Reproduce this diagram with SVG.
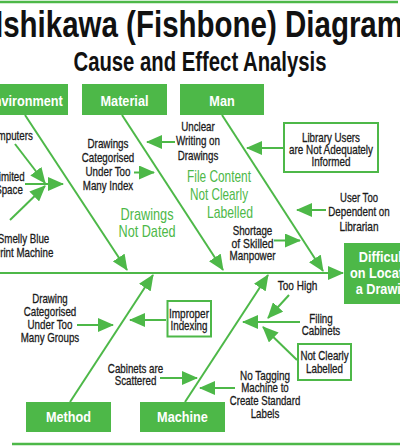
<svg xmlns="http://www.w3.org/2000/svg" width="400" height="446" viewBox="0 0 400 446">
<style>
text{font-family:"Liberation Sans",Arial,sans-serif}
.t{font-size:13px;fill:#1a1a1a;stroke:#1a1a1a;stroke-width:0.3;text-anchor:middle}
.b{font-size:15px;font-weight:bold;fill:#fff;text-anchor:middle}
.g{font-size:17px;fill:#4db848}
.gb{fill:#4db848}
.wb{fill:#fff;stroke:#4db848;stroke-width:2}
.ln{stroke:#4db848;stroke-width:2;fill:none}
.ar{marker-end:url(#ah)}
</style>
<defs>
<marker id="ah" viewBox="0 0 16 14" refX="15" refY="7" markerWidth="16" markerHeight="14" orient="auto" markerUnits="userSpaceOnUse"><path d="M0,0 L16,7 L0,14 z" fill="#4db848"/></marker>
</defs>
<rect width="400" height="446" fill="#fff"/>
<line x1="0" y1="2" x2="398" y2="2" stroke="#4db848" stroke-width="2.5"/>
<line x1="12" y1="444" x2="400" y2="444" stroke="#4db848" stroke-width="2.5"/>
<g id="title">
<text x="-5" y="36.5" font-size="36" font-weight="bold" fill="#111" textLength="408" lengthAdjust="spacingAndGlyphs">Ishikawa (Fishbone) Diagram</text>
<text x="200" y="71" font-size="28" font-weight="bold" fill="#111" text-anchor="middle" textLength="253" lengthAdjust="spacingAndGlyphs">Cause and Effect Analysis</text>
</g>
<g id="connectors" class="ln">
<line class="ar" x1="0" y1="273" x2="343" y2="273"/>
<line class="ar" x1="25" y1="115" x2="127" y2="270"/>
<line class="ar" x1="122" y1="115" x2="223" y2="270"/>
<line class="ar" x1="222" y1="115" x2="323" y2="271"/>
<line class="ar" x1="70" y1="402" x2="153" y2="275"/>
<line class="ar" x1="185" y1="402" x2="268" y2="275"/>
<line class="ar" x1="15" y1="144" x2="45" y2="183"/>
<line class="ar" x1="25" y1="184" x2="63" y2="184"/>
<line class="ar" x1="10" y1="220" x2="45" y2="186"/>
<line class="ar" x1="134" y1="172.5" x2="154" y2="172.5"/>
<line class="ar" x1="175" y1="142" x2="147" y2="142"/>
<line class="ar" x1="283" y1="148" x2="247" y2="148"/>
<line class="ar" x1="326" y1="210" x2="297" y2="210"/>
<line class="ar" x1="274" y1="240.5" x2="300" y2="240.5"/>
<line class="ar" x1="77" y1="325" x2="113" y2="325"/>
<line class="ar" x1="166" y1="320" x2="130" y2="320"/>
<line class="ar" x1="160" y1="378" x2="197" y2="378"/>
<line class="ar" x1="235" y1="388" x2="200" y2="388"/>
<line class="ar" x1="289" y1="295" x2="268" y2="318"/>
<line class="ar" x1="300" y1="322" x2="243" y2="322"/>
<line class="ar" x1="297" y1="360" x2="263" y2="327"/>
</g>
<g id="environment"><rect class="gb" x="-20" y="84" width="88" height="31"/><text class="b" x="24" y="105.5" textLength="77.6" lengthAdjust="spacingAndGlyphs">Environment</text></g>
<g id="material"><rect class="gb" x="82" y="84" width="85" height="31"/><text class="b" x="124.5" y="105.5" textLength="48" lengthAdjust="spacingAndGlyphs">Material</text></g>
<g id="man"><rect class="gb" x="180" y="84" width="84" height="31"/><text class="b" x="222" y="105.5" textLength="25.4" lengthAdjust="spacingAndGlyphs">Man</text></g>
<g id="method"><rect class="gb" x="26" y="402" width="85" height="30"/><text class="b" x="68.5" y="422" textLength="45" lengthAdjust="spacingAndGlyphs">Method</text></g>
<g id="machine"><rect class="gb" x="140" y="402" width="85" height="30"/><text class="b" x="182.5" y="422" textLength="50.8" lengthAdjust="spacingAndGlyphs">Machine</text></g>
<g id="effect"><rect class="gb" x="344" y="243" width="84" height="61"/>
<text class="b" x="386" y="261.5" textLength="54.3" lengthAdjust="spacingAndGlyphs">Difficulty</text>
<text class="b" x="386" y="278" textLength="72" lengthAdjust="spacingAndGlyphs">on Locating</text>
<text class="b" x="386" y="294" textLength="60.7" lengthAdjust="spacingAndGlyphs">a Drawing</text></g>
<g id="computers"><text class="t" x="9" y="140" textLength="47.7" lengthAdjust="spacingAndGlyphs">Computers</text></g>
<g id="limited-space"><text class="t" x="9" y="181" textLength="31.4" lengthAdjust="spacingAndGlyphs">Limited</text><text class="t" x="9" y="194" textLength="27.6" lengthAdjust="spacingAndGlyphs">Space</text></g>
<g id="smelly"><text class="t" x="23.5" y="242.5" textLength="51.5" lengthAdjust="spacingAndGlyphs">Smelly Blue</text><text class="t" x="23.5" y="256.5" textLength="59.6" lengthAdjust="spacingAndGlyphs">Print Machine</text></g>
<g id="drawings-index"><text class="t" x="108" y="148" textLength="41" lengthAdjust="spacingAndGlyphs">Drawings</text><text class="t" x="108" y="161.9" textLength="52.5" lengthAdjust="spacingAndGlyphs">Categorised</text><text class="t" x="108" y="175.8" textLength="45" lengthAdjust="spacingAndGlyphs">Under Too</text><text class="t" x="108" y="189.7" textLength="50.4" lengthAdjust="spacingAndGlyphs">Many Index</text></g>
<g id="unclear"><text class="t" x="198" y="130.5" textLength="33.6" lengthAdjust="spacingAndGlyphs">Unclear</text><text class="t" x="198" y="145" textLength="44" lengthAdjust="spacingAndGlyphs">Writing on</text><text class="t" x="198" y="159.5" textLength="40.6" lengthAdjust="spacingAndGlyphs">Drawings</text></g>
<g id="file-content"><text class="g" x="187" y="181.5" textLength="64" lengthAdjust="spacingAndGlyphs">File Content</text><text class="g" x="190" y="199.5" textLength="58" lengthAdjust="spacingAndGlyphs">Not Clearly</text><text class="g" x="207" y="217.5" textLength="46" lengthAdjust="spacingAndGlyphs">Labelled</text></g>
<g id="not-dated"><text class="g" x="147" y="220" text-anchor="middle" textLength="53" lengthAdjust="spacingAndGlyphs">Drawings</text><text class="g" x="147" y="236.5" text-anchor="middle" textLength="57" lengthAdjust="spacingAndGlyphs">Not Dated</text></g>
<g id="library-users"><rect class="wb" x="284" y="123" width="94" height="49"/><text class="t" x="331" y="141.5" textLength="58" lengthAdjust="spacingAndGlyphs">Library Users</text><text class="t" x="331" y="153.5" textLength="84" lengthAdjust="spacingAndGlyphs">are Not Adequately</text><text class="t" x="331" y="165.5" textLength="39" lengthAdjust="spacingAndGlyphs">Informed</text></g>
<g id="user-too"><text class="t" x="359" y="201.5" textLength="38" lengthAdjust="spacingAndGlyphs">User Too</text><text class="t" x="359" y="216" textLength="61.5" lengthAdjust="spacingAndGlyphs">Dependent on</text><text class="t" x="359" y="230.5" textLength="39" lengthAdjust="spacingAndGlyphs">Librarian</text></g>
<g id="shortage"><text class="t" x="252.5" y="234.5" textLength="39.6" lengthAdjust="spacingAndGlyphs">Shortage</text><text class="t" x="252.5" y="247.5" textLength="42" lengthAdjust="spacingAndGlyphs">of Skilled</text><text class="t" x="252.5" y="260" textLength="46" lengthAdjust="spacingAndGlyphs">Manpower</text></g>
<g id="drawing-groups"><text class="t" x="50" y="302.5" textLength="35.5" lengthAdjust="spacingAndGlyphs">Drawing</text><text class="t" x="50" y="315.5" textLength="52.6" lengthAdjust="spacingAndGlyphs">Categorised</text><text class="t" x="50" y="328.5" textLength="45" lengthAdjust="spacingAndGlyphs">Under Too</text><text class="t" x="50" y="341.5" textLength="58.5" lengthAdjust="spacingAndGlyphs">Many Groups</text></g>
<g id="improper"><rect class="wb" x="167.5" y="301" width="43.5" height="35.5"/><text class="t" x="189" y="317.5" textLength="40" lengthAdjust="spacingAndGlyphs">Improper</text><text class="t" x="189" y="329.5" textLength="37" lengthAdjust="spacingAndGlyphs">Indexing</text></g>
<g id="cabinets-scattered"><text class="t" x="135.5" y="372.5" textLength="55.3" lengthAdjust="spacingAndGlyphs">Cabinets are</text><text class="t" x="135.5" y="384.5" textLength="41.7" lengthAdjust="spacingAndGlyphs">Scattered</text></g>
<g id="no-tagging"><text class="t" x="265" y="379.5" textLength="50" lengthAdjust="spacingAndGlyphs">No Tagging</text><text class="t" x="265" y="392" textLength="47.5" lengthAdjust="spacingAndGlyphs">Machine to</text><text class="t" x="265" y="404.5" textLength="70.5" lengthAdjust="spacingAndGlyphs">Create Standard</text><text class="t" x="265" y="417.5" textLength="28.7" lengthAdjust="spacingAndGlyphs">Labels</text></g>
<g id="too-high"><text class="t" x="297.5" y="289.5" textLength="39.6" lengthAdjust="spacingAndGlyphs">Too High</text></g>
<g id="filing"><text class="t" x="321" y="322.5" textLength="23.3" lengthAdjust="spacingAndGlyphs">Filing</text><text class="t" x="321" y="334.5" textLength="38.5" lengthAdjust="spacingAndGlyphs">Cabinets</text></g>
<g id="not-clearly"><rect class="wb" x="298" y="344" width="53" height="36"/><text class="t" x="324.5" y="359.5" textLength="48.2" lengthAdjust="spacingAndGlyphs">Not Clearly</text><text class="t" x="324.5" y="372.5" textLength="36.9" lengthAdjust="spacingAndGlyphs">Labelled</text></g>
</svg>
